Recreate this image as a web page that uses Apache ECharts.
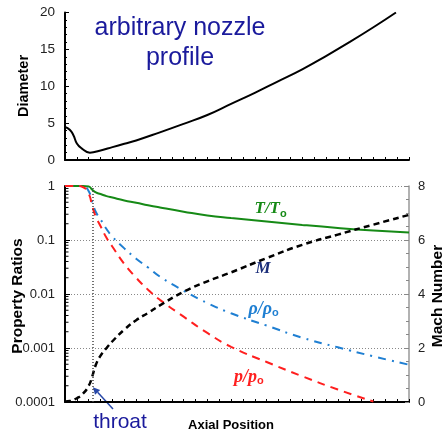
<!DOCTYPE html>
<html>
<head>
<meta charset="utf-8">
<script src="https://cdn.jsdelivr.net/npm/echarts@6/dist/echarts.min.js"></script>
<style>
    html, body { margin: 0; padding: 0; background: #fff; }
    #nozzle-chart { width: 444px; height: 434px; }
</style>
</head>
<body>
<div id="nozzle-chart"></div>
<script>
// 喷管外形（上图）
var profilePos = [0, 0.4, 0.7, 1.0, 1.4, 2.1, 3, 4, 5, 6, 8, 10, 12, 14, 16, 18, 20, 22, 24, 26, 27.9];
var diameter = [4.5, 4.1, 3.4, 2.25, 1.58, 1.0, 1.3, 1.75, 2.2, 2.65, 3.75, 4.9, 6.1, 7.6, 9.1, 10.7, 12.3, 14.1, 16.0, 18.0, 20.0];

// 物性比 + 马赫数（下图）
var axialPos = [0, 0.5, 1, 1.5, 2, 2.3, 2.6, 3, 3.5, 4, 5, 6, 7, 8, 10, 12, 14, 17, 20, 23, 26, 29];
var tempRatio = [1, 1, 1, 1, 0.98, 0.85, 0.76, 0.71, 0.65, 0.61, 0.54, 0.49, 0.44, 0.40, 0.335, 0.285, 0.255, 0.22, 0.19, 0.167, 0.15, 0.138];
var densRatio = [1, 1, 1, 1, 0.8, 0.5, 0.33, 0.24, 0.16, 0.115, 0.07, 0.045, 0.031, 0.021, 0.0115, 0.0068, 0.0044, 0.0026, 0.00155, 0.00103, 0.0007, 0.00049];
var presRatio = [1, 1, 1, 0.96, 0.72, 0.42, 0.27, 0.18, 0.11, 0.075, 0.036, 0.02, 0.012, 0.0078, 0.0038, 0.0019, 0.00105, 0.00055, 0.0003, 0.00017, 0.000102, null];
var mach = [0.02, 0.05, 0.14, 0.3, 0.6, 0.95, 1.38, 1.72, 2.0, 2.25, 2.68, 3.03, 3.3, 3.58, 4.08, 4.47, 4.8, 5.33, 5.82, 6.2, 6.57, 6.93];

var throatPos = 2.35;
var axialMax = 29;

var labelFont = '"Liberation Sans", Arial, sans-serif';
var serifFont = '"Liberation Serif", "DejaVu Serif", serif';

function pairs(xs, ys) {
    return xs.map(function (x, i) { return [x, ys[i]]; });
}

var chart = echarts.init(document.getElementById('nozzle-chart'));

var option = {
    animation: false,
    grid: [
        { left: 65, top: 12.5, width: 344, height: 147.5 },
        { left: 65, top: 186, width: 344, height: 216 }
    ],
    xAxis: [{
        gridIndex: 0,
        type: 'value',
        min: 0,
        max: axialMax,
        interval: 1,
        axisLine: { lineStyle: { color: '#000', width: 2 } },
        axisTick: { inside: true, length: 3, lineStyle: { color: '#000' } },
        axisLabel: { show: false },
        splitLine: { show: false }
    }, {
        gridIndex: 1,
        type: 'value',
        min: 0,
        max: axialMax,
        interval: 1,
        axisLine: { lineStyle: { color: '#000', width: 2 } },
        axisTick: { inside: true, length: 3, lineStyle: { color: '#000' } },
        axisLabel: { show: false },
        splitLine: { show: false }
    }],
    yAxis: [{
        gridIndex: 0,
        type: 'value',
        min: 0,
        max: 20,
        interval: 5,
        axisLine: { show: true, lineStyle: { color: '#000', width: 2 } },
        axisTick: { show: true, inside: true, length: 4, lineStyle: { color: '#000' } },
        minorTick: { show: true, splitNumber: 5, length: 2, lineStyle: { color: '#000' } },
        axisLabel: { fontFamily: labelFont, fontSize: 13.5, color: '#222', margin: 10 },
        splitLine: { show: false }
    }, {
        gridIndex: 1,
        type: 'log',
        logBase: 10,
        min: 0.0001,
        max: 1,
        splitNumber: 4,
        axisLine: { show: true, lineStyle: { color: '#000', width: 2 } },
        axisTick: { show: true, inside: true, length: 5, lineStyle: { color: '#000' } },
        axisLabel: {
            fontFamily: labelFont, fontSize: 13, color: '#222', margin: 10,
            formatter: function (v) { return String(+(+v).toPrecision(1)); }
        },
        splitLine: { show: true, lineStyle: { color: '#888', type: [1, 2], width: 1 } }
    }, {
        gridIndex: 1,
        type: 'value',
        position: 'right',
        min: 0,
        max: 8,
        interval: 2,
        axisLine: { show: true, lineStyle: { color: '#999', width: 1.5 } },
        axisTick: { show: true, inside: true, length: 4, lineStyle: { color: '#888' } },
        minorTick: { show: true, splitNumber: 4, length: 3, lineStyle: { color: '#888' } },
        axisLabel: { fontFamily: labelFont, fontSize: 13, color: '#222', margin: 9 },
        splitLine: { show: false }
    }],
    series: [{
        name: 'Diameter',
        type: 'line',
        xAxisIndex: 0,
        yAxisIndex: 0,
        data: pairs(profilePos, diameter),
        smooth: 0.5,
        symbol: 'none',
        lineStyle: { color: '#000', width: 2 }
    }, {
        name: 'T/To',
        type: 'line',
        xAxisIndex: 1,
        yAxisIndex: 1,
        data: pairs(axialPos, tempRatio),
        smooth: 0.5,
        symbol: 'none',
        lineStyle: { color: '#168a16', width: 2 },
        markLine: {
            silent: true,
            symbol: 'none',
            label: { show: false },
            lineStyle: { color: '#444', type: [1, 2], width: 1.5 },
            data: [{ xAxis: throatPos }]
        }
    }, {
        name: 'rho/rho_o',
        type: 'line',
        xAxisIndex: 1,
        yAxisIndex: 1,
        data: pairs(axialPos, densRatio),
        smooth: 0.5,
        symbol: 'none',
        lineStyle: { color: '#1f7fd2', width: 2, type: [8, 6, 2, 6] }
    }, {
        name: 'p/p_o',
        type: 'line',
        xAxisIndex: 1,
        yAxisIndex: 1,
        data: pairs(axialPos, presRatio),
        smooth: 0.5,
        symbol: 'none',
        lineStyle: { color: '#ff1f1f', width: 2, type: [8, 6] }
    }, {
        name: 'M',
        type: 'line',
        xAxisIndex: 1,
        yAxisIndex: 2,
        data: pairs(axialPos, mach),
        smooth: 0.5,
        symbol: 'none',
        lineStyle: { color: '#000', width: 2.5, type: [6, 4] }
    }]
};

chart.setOption(option);

// 文字注释
function txt(id, text, x, y, font, color, rotation, align) {
    return {
        id: id,
        type: 'text',
        x: x,
        y: y,
        rotation: rotation || 0,
        silent: true,
        style: {
            text: text,
            font: font,
            fill: color,
            align: align || 'center',
            verticalAlign: 'middle'
        }
    };
}

var graphics = [
    txt('title1', 'arbitrary nozzle', 180, 28, '25px ' + labelFont, '#1a1a9c'),
    txt('title2', 'profile', 180, 58, '25px ' + labelFont, '#1a1a9c'),
    txt('yname0', 'Diameter', 24, 86, 'bold 14.5px ' + labelFont, '#000', Math.PI / 2),
    txt('yname1', 'Property Ratios', 18, 296, 'bold 15.5px ' + labelFont, '#000', Math.PI / 2),
    txt('yname2', 'Mach Number', 438, 296, 'bold 15.5px ' + labelFont, '#000', Math.PI / 2),
    txt('xname', 'Axial Position', 231, 425, 'bold 13px ' + labelFont, '#000'),
    txt('throat', 'throat', 120, 422, '21px ' + labelFont, '#1a1a9c'),
    txt('lblT', 'T/T', 280, 209, 'italic bold 17px ' + serifFont, '#168a16', 0, 'right'),
    txt('lblTs', 'o', 280, 214, 'bold 11px ' + labelFont, '#168a16', 0, 'left'),
    txt('lblM', 'M', 263, 269, 'italic bold 17px ' + serifFont, '#1c2f7a'),
    txt('lblR', 'ρ/ρ', 272, 309, 'italic bold 18px ' + serifFont, '#1f7fd2', 0, 'right'),
    txt('lblRs', 'o', 272, 313, 'bold 11px ' + labelFont, '#1f7fd2', 0, 'left'),
    txt('lblP', 'p/p', 257, 377, 'italic bold 18px ' + serifFont, '#ff1f1f', 0, 'right'),
    txt('lblPs', 'o', 257, 381, 'bold 11px ' + labelFont, '#ff1f1f', 0, 'left')
];

// 对数轴次刻度 (2..9)
var gridLeft = chart.convertToPixel({ xAxisIndex: 1 }, 0);
for (var d = -4; d < 0; d++) {
    for (var k = 2; k <= 9; k++) {
        var py = chart.convertToPixel({ yAxisIndex: 1 }, k * Math.pow(10, d));
        graphics.push({
            type: 'line',
            silent: true,
            shape: { x1: gridLeft, y1: py, x2: gridLeft + 3.5, y2: py },
            style: { stroke: '#000', lineWidth: 1 }
        });
    }
}

// throat 箭头
var tip = chart.convertToPixel({ xAxisIndex: 1, yAxisIndex: 2 }, [throatPos, 0.55]);
var tail = [113, 409];
var ang = Math.atan2(tip[1] - tail[1], tip[0] - tail[0]);
var headLen = 7, headW = 3.5;
var bx = tip[0] - headLen * Math.cos(ang), by = tip[1] - headLen * Math.sin(ang);
graphics.push({
    type: 'line',
    silent: true,
    shape: { x1: tail[0], y1: tail[1], x2: bx, y2: by },
    style: { stroke: '#2848a8', lineWidth: 1.5 }
});
graphics.push({
    type: 'polygon',
    silent: true,
    shape: {
        points: [
            tip,
            [bx + headW * Math.sin(ang), by - headW * Math.cos(ang)],
            [bx - headW * Math.sin(ang), by + headW * Math.cos(ang)]
        ]
    },
    style: { fill: '#2848a8' }
});

chart.setOption({ graphic: graphics });
</script>
</body>
</html>
